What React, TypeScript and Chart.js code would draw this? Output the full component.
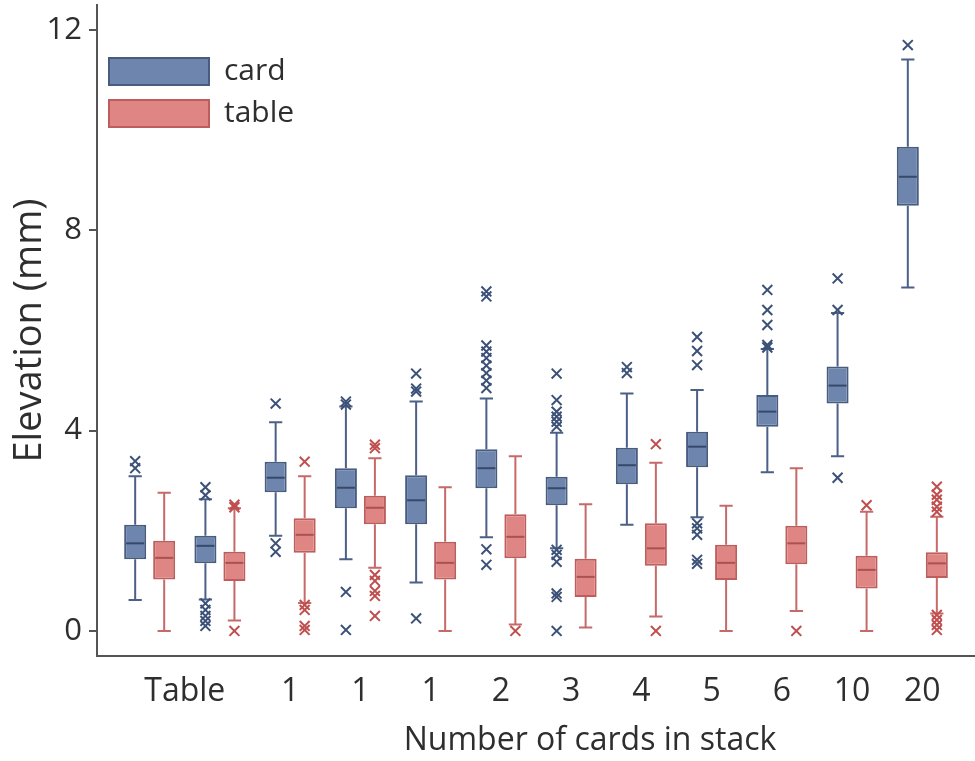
import React, { useEffect, useRef } from "react";
import { Chart, registerables } from "chart.js";

Chart.register(...registerables);

// ---- data ----
const tickLabels = ["Table", "1", "1", "1", "2", "3", "4", "5", "6", "10", "20"];
const tickSpans = [2, 1, 1, 1, 1, 1, 1, 1, 1, 1, 1];
const yTickValues = [0, 4, 8, 12];
const seriesNames = ["card", "table"];

const cardMin = [0.62, 0.63, 1.9, 1.43, 0.97, 1.87, 1.65, 2.12, 2.27, 3.17, 3.49, 6.86];
const cardQ1 = [1.43, 1.35, 2.77, 2.45, 2.13, 2.85, 2.51, 2.93, 3.27, 4.08, 4.54, 8.49];
const cardMedian = [1.75, 1.7, 3.06, 2.86, 2.61, 3.25, 2.85, 3.31, 3.68, 4.38, 4.9, 9.07];
const cardQ3 = [2.12, 1.9, 3.38, 3.25, 3.11, 3.63, 3.08, 3.66, 3.98, 4.71, 5.28, 9.67];
const cardMax = [3.09, 2.63, 4.17, 4.48, 4.58, 4.64, 3.96, 4.74, 4.81, 5.63, 6.35, 11.41];
const cardOutliers = [
  [3.39, 3.25],
  [2.87, 2.71, 0.55, 0.42, 0.3, 0.2, 0.1],
  [4.54, 1.75, 1.58],
  [4.58, 4.52, 0.78, 0.02],
  [5.14, 4.84, 4.78, 0.25],
  [6.78, 6.68, 5.7, 5.58, 5.45, 5.3, 5.15, 5.0, 4.85, 1.63, 1.32],
  [5.14, 4.61, 4.38, 4.28, 4.18, 4.08, 1.62, 1.52, 1.38, 0.75, 0.68, 0.0],
  [5.27, 5.15],
  [5.87, 5.59, 5.31, 2.15, 2.05, 1.92, 1.42, 1.34],
  [6.81, 6.41, 6.11, 5.71, 5.66],
  [7.04, 6.41, 3.06],
  [11.7],
];

const tableMin = [0.0, 0.21, 0.56, 1.26, 0.0, 0.13, 0.07, 0.29, 0.0, 0.4, 0.0, 0.35];
const tableQ1 = [1.03, 1.0, 1.56, 2.13, 1.03, 1.45, 0.68, 1.3, 1.02, 1.33, 0.85, 1.06];
const tableMedian = [1.46, 1.36, 1.92, 2.46, 1.36, 1.88, 1.08, 1.65, 1.36, 1.75, 1.22, 1.35];
const tableQ3 = [1.8, 1.58, 2.25, 2.7, 1.78, 2.33, 1.44, 2.15, 1.72, 2.1, 1.5, 1.57];
const tableMax = [2.76, 2.45, 3.09, 3.45, 2.87, 3.49, 2.53, 3.36, 2.5, 3.25, 2.38, 2.28];
const tableOutliers = [
  [],
  [2.52, 2.47, 0.0],
  [3.38, 0.52, 0.42, 0.1, 0.02],
  [3.72, 3.65, 1.12, 1.0, 0.8, 0.7, 0.3],
  [],
  [0.0],
  [],
  [3.73, 0.0],
  [],
  [0.0],
  [2.51],
  [2.88, 2.72, 2.62, 2.48, 2.38, 0.32, 0.22, 0.12, 0.02],
];

// ---- styles ----
const STYLES = [
  { fill: "#6e86ad", border: "#485c80", whisker: "#4c6087", median: "#37496b", outlier: "#3c5178" },
  { fill: "#df8684", border: "#bd5d5c", whisker: "#c66a69", median: "#ab5150", outlier: "#bf4f4e" },
];
const CATEGORY_PCT = 0.826;
const BAR_PCT = 0.76;
const TEXT = "#2e2e2e";
const AXIS = "#555555";
const FONT = "'Open Sans', sans-serif";

export default function App() {
  const ref = useRef<HTMLCanvasElement>(null);

  useEffect(() => {
    const canvas = ref.current;
    if (!canvas) return;

    const stats = [
      { min: cardMin, q1: cardQ1, med: cardMedian, q3: cardQ3, max: cardMax, out: cardOutliers },
      { min: tableMin, q1: tableQ1, med: tableMedian, q3: tableQ3, max: tableMax, out: tableOutliers },
    ];

    const tickPositions: number[] = [];
    let start = 0;
    tickSpans.forEach((s) => {
      tickPositions.push(start + (s - 1) / 2);
      start += s;
    });
    const groupCount = cardMedian.length;

    const barSets = stats.map((s, k) => ({
      type: "bar" as const,
      label: seriesNames[k],
      data: s.q1.map((v, i) => ({ x: i, y: [v, s.q3[i]] })),
      backgroundColor: STYLES[k].fill,
      borderColor: STYLES[k].border,
      borderWidth: 2,
      borderSkipped: false as const,
      categoryPercentage: CATEGORY_PCT,
      barPercentage: BAR_PCT,
      order: 2,
    }));

    const shift = CATEGORY_PCT / 4;
    const outlierSets = stats.map((s, k) => ({
      type: "scatter" as const,
      label: seriesNames[k] + " outliers",
      data: s.out.flatMap((arr, i) => arr.map((v) => ({ x: i + (k === 0 ? -shift : shift), y: v }))),
      pointStyle: "crossRot" as const,
      pointRadius: 7,
      pointBorderWidth: 2,
      borderColor: STYLES[k].outlier,
      backgroundColor: STYLES[k].outlier,
      showLine: false,
      order: 1,
    }));

    const whiskerPlugin = {
      id: "whiskers",
      afterDatasetDraw(chart: any, args: any) {
        const k = args.index;
        if (k > 1) return;
        const s = stats[k];
        const yS = chart.scales.y;
        const ctx = chart.ctx;
        ctx.save();
        ctx.lineWidth = 2;
        args.meta.data.forEach((el: any, i: number) => {
          const { x, width } = el.getProps(["x", "width"], true);
          const pMin = yS.getPixelForValue(s.min[i]);
          const pQ1 = yS.getPixelForValue(s.q1[i]);
          const pMed = yS.getPixelForValue(s.med[i]);
          const pQ3 = yS.getPixelForValue(s.q3[i]);
          const pMax = yS.getPixelForValue(s.max[i]);
          const cap = width * 0.6;
          ctx.strokeStyle = STYLES[k].whisker;
          ctx.beginPath();
          ctx.moveTo(x, pQ3);
          ctx.lineTo(x, pMax);
          ctx.moveTo(x - cap / 2, pMax);
          ctx.lineTo(x + cap / 2, pMax);
          ctx.moveTo(x, pQ1);
          ctx.lineTo(x, pMin);
          ctx.moveTo(x - cap / 2, pMin);
          ctx.lineTo(x + cap / 2, pMin);
          ctx.stroke();
          ctx.strokeStyle = STYLES[k].median;
          ctx.beginPath();
          ctx.moveTo(x - width / 2 + 2, pMed);
          ctx.lineTo(x + width / 2 - 2, pMed);
          ctx.stroke();
        });
        ctx.restore();
      },
    };

    const chart = new Chart(canvas, {
      type: "bar",
      data: { datasets: [...barSets, ...outlierSets] as any },
      plugins: [whiskerPlugin],
      options: {
        responsive: false,
        animation: false,
        events: [],
        layout: { autoPadding: false, padding: { top: 5, left: 0, right: 0, bottom: 0 } },
        scales: {
          x: {
            type: "linear",
            min: -0.75,
            max: groupCount - 0.25,
            offset: false,
            grid: { display: false, drawTicks: false },
            border: { display: true, color: AXIS, width: 2 },
            afterBuildTicks: (scale: any) => {
              scale.ticks = tickPositions.map((v) => ({ value: v }));
            },
            afterFit: (scale: any) => {
              scale.height = 105;
              scale.paddingLeft = 0;
              scale.paddingRight = 0;
            },
            ticks: {
              autoSkip: false,
              maxRotation: 0,
              padding: 17,
              color: TEXT,
              font: { family: FONT, size: 32 },
              callback: (_v: any, i: number) => tickLabels[i],
            },
            title: {
              display: true,
              text: "             Number of cards in stack",
              color: TEXT,
              font: { family: FONT, size: 32 },
              padding: { top: 0, bottom: 1 },
            },
          },
          y: {
            type: "linear",
            min: -0.5,
            max: 12.5,
            grid: { display: true, drawOnChartArea: false, drawTicks: true, tickLength: 8, color: AXIS, lineWidth: 2 },
            border: { display: true, color: AXIS, width: 2 },
            afterBuildTicks: (scale: any) => {
              scale.ticks = yTickValues.map((v) => ({ value: v }));
            },
            afterFit: (scale: any) => {
              scale.width = 97;
              scale.paddingTop = 0;
              scale.paddingBottom = 0;
            },
            ticks: {
              padding: 7,
              color: TEXT,
              font: { family: FONT, size: 31 },
            },
            title: {
              display: true,
              text: "Elevation (mm)",
              color: TEXT,
              font: { family: FONT, size: 38 },
              padding: { top: 7, bottom: 0 },
            },
          },
        },
        plugins: {
          tooltip: { enabled: false },
          legend: {
            position: "chartArea" as any,
            align: "start",
            title: { display: true, text: "", font: { size: 44.5, lineHeight: 1 }, padding: 0 },
            labels: {
              boxWidth: 100,
              boxHeight: 27,
              padding: 12,
              color: TEXT,
              font: { family: FONT, size: 30 },
              filter: (item: any) => item.datasetIndex < 2,
            },
          },
        },
      } as any,
    });

    return () => chart.destroy();
  }, []);

  return (
    <div style={{ position: "fixed", left: 0, top: 0, width: 975, height: 761, background: "#ffffff" }}>
      <canvas ref={ref} width={975} height={761} />
    </div>
  );
}
